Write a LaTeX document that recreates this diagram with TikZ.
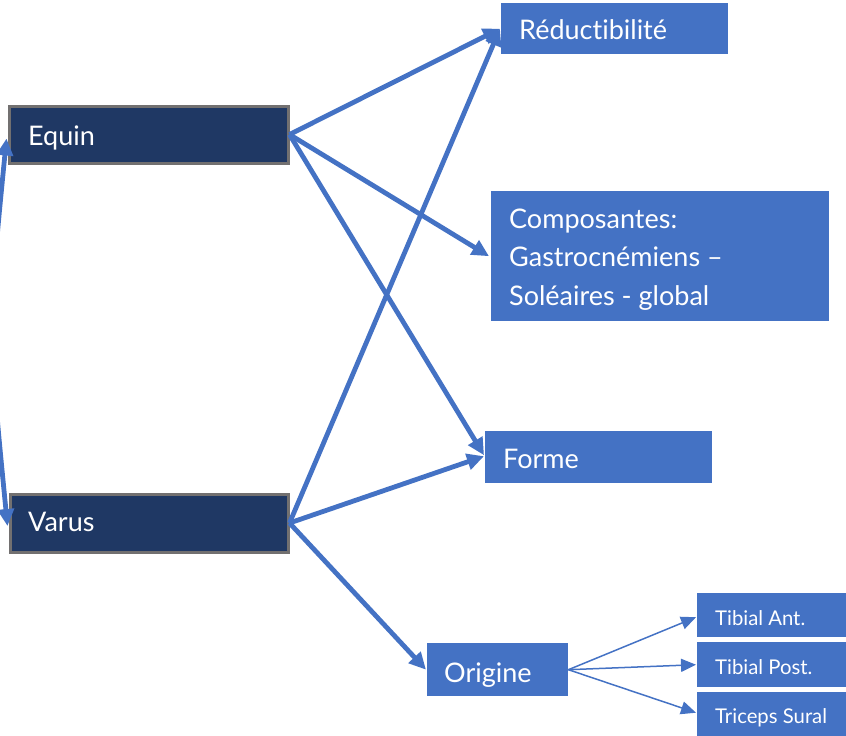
\documentclass[tikz,border=0pt]{standalone}
\usepackage{fontspec}
\setmainfont{Lato}[Ligatures={NoCommon}]
\usetikzlibrary{arrows.meta}
\definecolor{boxblue}{HTML}{4472C4}
\definecolor{navy}{HTML}{1F3864}
\definecolor{framegray}{HTML}{727070}
\begin{document}
\begin{tikzpicture}[x=1pt,y=-1pt,
  darkbox/.style={draw=framegray, line width=3pt, fill=navy, inner sep=0pt, anchor=north west},
  bluebox/.style={fill=boxblue, inner sep=0pt, anchor=north west},
  bigtxt/.style={text=white, inner sep=0pt, anchor=base west, font=\fontsize{27}{31}\selectfont},
  smalltxt/.style={text=white, inner sep=0pt, anchor=base west, font=\fontsize{20.3}{24}\selectfont},
  thick link/.style={draw=boxblue, line width=4.8pt, -{Triangle[length=17pt,width=16pt]}},
  thin link/.style={draw=boxblue, line width=1.5pt, -{Triangle[length=15pt,width=13pt]}},
  both link/.style={draw=boxblue, line width=4.8pt, {Triangle[length=17pt,width=16pt]}-{Triangle[length=17pt,width=16pt]}}]
\useasboundingbox (0,0) rectangle (846,736);
\clip (0,0) rectangle (846,736);

% left column
\node[darkbox, minimum width=279pt, minimum height=57pt] (equin) at (7.5,104.5) {};
\node[darkbox, minimum width=278pt, minimum height=58pt] (varus) at (8.5,492.5) {};

% right column
\node[bluebox, minimum width=227pt, minimum height=51pt] (reduc) at (501,3) {};
\node[bluebox, minimum width=338pt, minimum height=130pt] (compo) at (491,191) {};
\node[bluebox, minimum width=227pt, minimum height=52pt] (forme) at (485,431) {};
\node[bluebox, minimum width=141pt, minimum height=53pt] (origine) at (427,643) {};

% muscles
\node[bluebox, minimum width=155pt, minimum height=44pt] (tibant) at (697,593) {};
\node[bluebox, minimum width=155pt, minimum height=45pt] (tibpost) at (697,642) {};
\node[bluebox, minimum width=155pt, minimum height=45pt] (triceps) at (697,692) {};

% labels
\node[bigtxt] (t-equin) at (28,145) {Equin};
\node[bigtxt] (t-varus) at (28,531) {Varus};
\node[bigtxt] (t-reduc) at (519,39) {Réductibilité};
\node[bigtxt] (t-compo1) at (509,228) {Composantes:};
\node[bigtxt] (t-compo2) at (509,266.5) {Gastrocnémiens –};
\node[bigtxt] (t-compo3) at (509,305) {Soléaires - global};
\node[bigtxt] (t-forme) at (503,468) {Forme};
\node[bigtxt] (t-origine) at (444,682) {Origine};
\node[smalltxt] (t-tibant) at (715,625) {Tibial Ant.};
\node[smalltxt] (t-tibpost) at (715,674) {Tibial Post.};
\node[smalltxt] (t-triceps) at (715,723) {Triceps Sural};

% connectors
\draw[thick link] (equin.east) -- ([xshift=-1pt]reduc.west);
\draw[thick link] (equin.east) -- ([xshift=-2pt]compo.west);
\draw[thick link] (equin.east) -- ([xshift=-1pt,yshift=2pt]forme.west);
\draw[thick link] (varus.east) -- ([xshift=-1pt]reduc.west);
\draw[thick link] (varus.east) -- ([xshift=-1pt,yshift=1pt]forme.west);
\draw[thick link] (varus.east) -- ([xshift=-1pt]origine.west);
\draw[both link] ([xshift=-1pt,yshift=-4pt]equin.west) .. controls (-12,327) and (-12,327) .. ([xshift=-1pt,yshift=-3pt]varus.west);

\draw[thin link] (origine.east) -- ([xshift=-1pt,yshift=-2pt]tibant.west);
\draw[thin link] (origine.east) -- ([xshift=-1pt]tibpost.west);
\draw[thin link] (origine.east) -- ([xshift=-1pt,yshift=2pt]triceps.west);
\end{tikzpicture}
\end{document}
